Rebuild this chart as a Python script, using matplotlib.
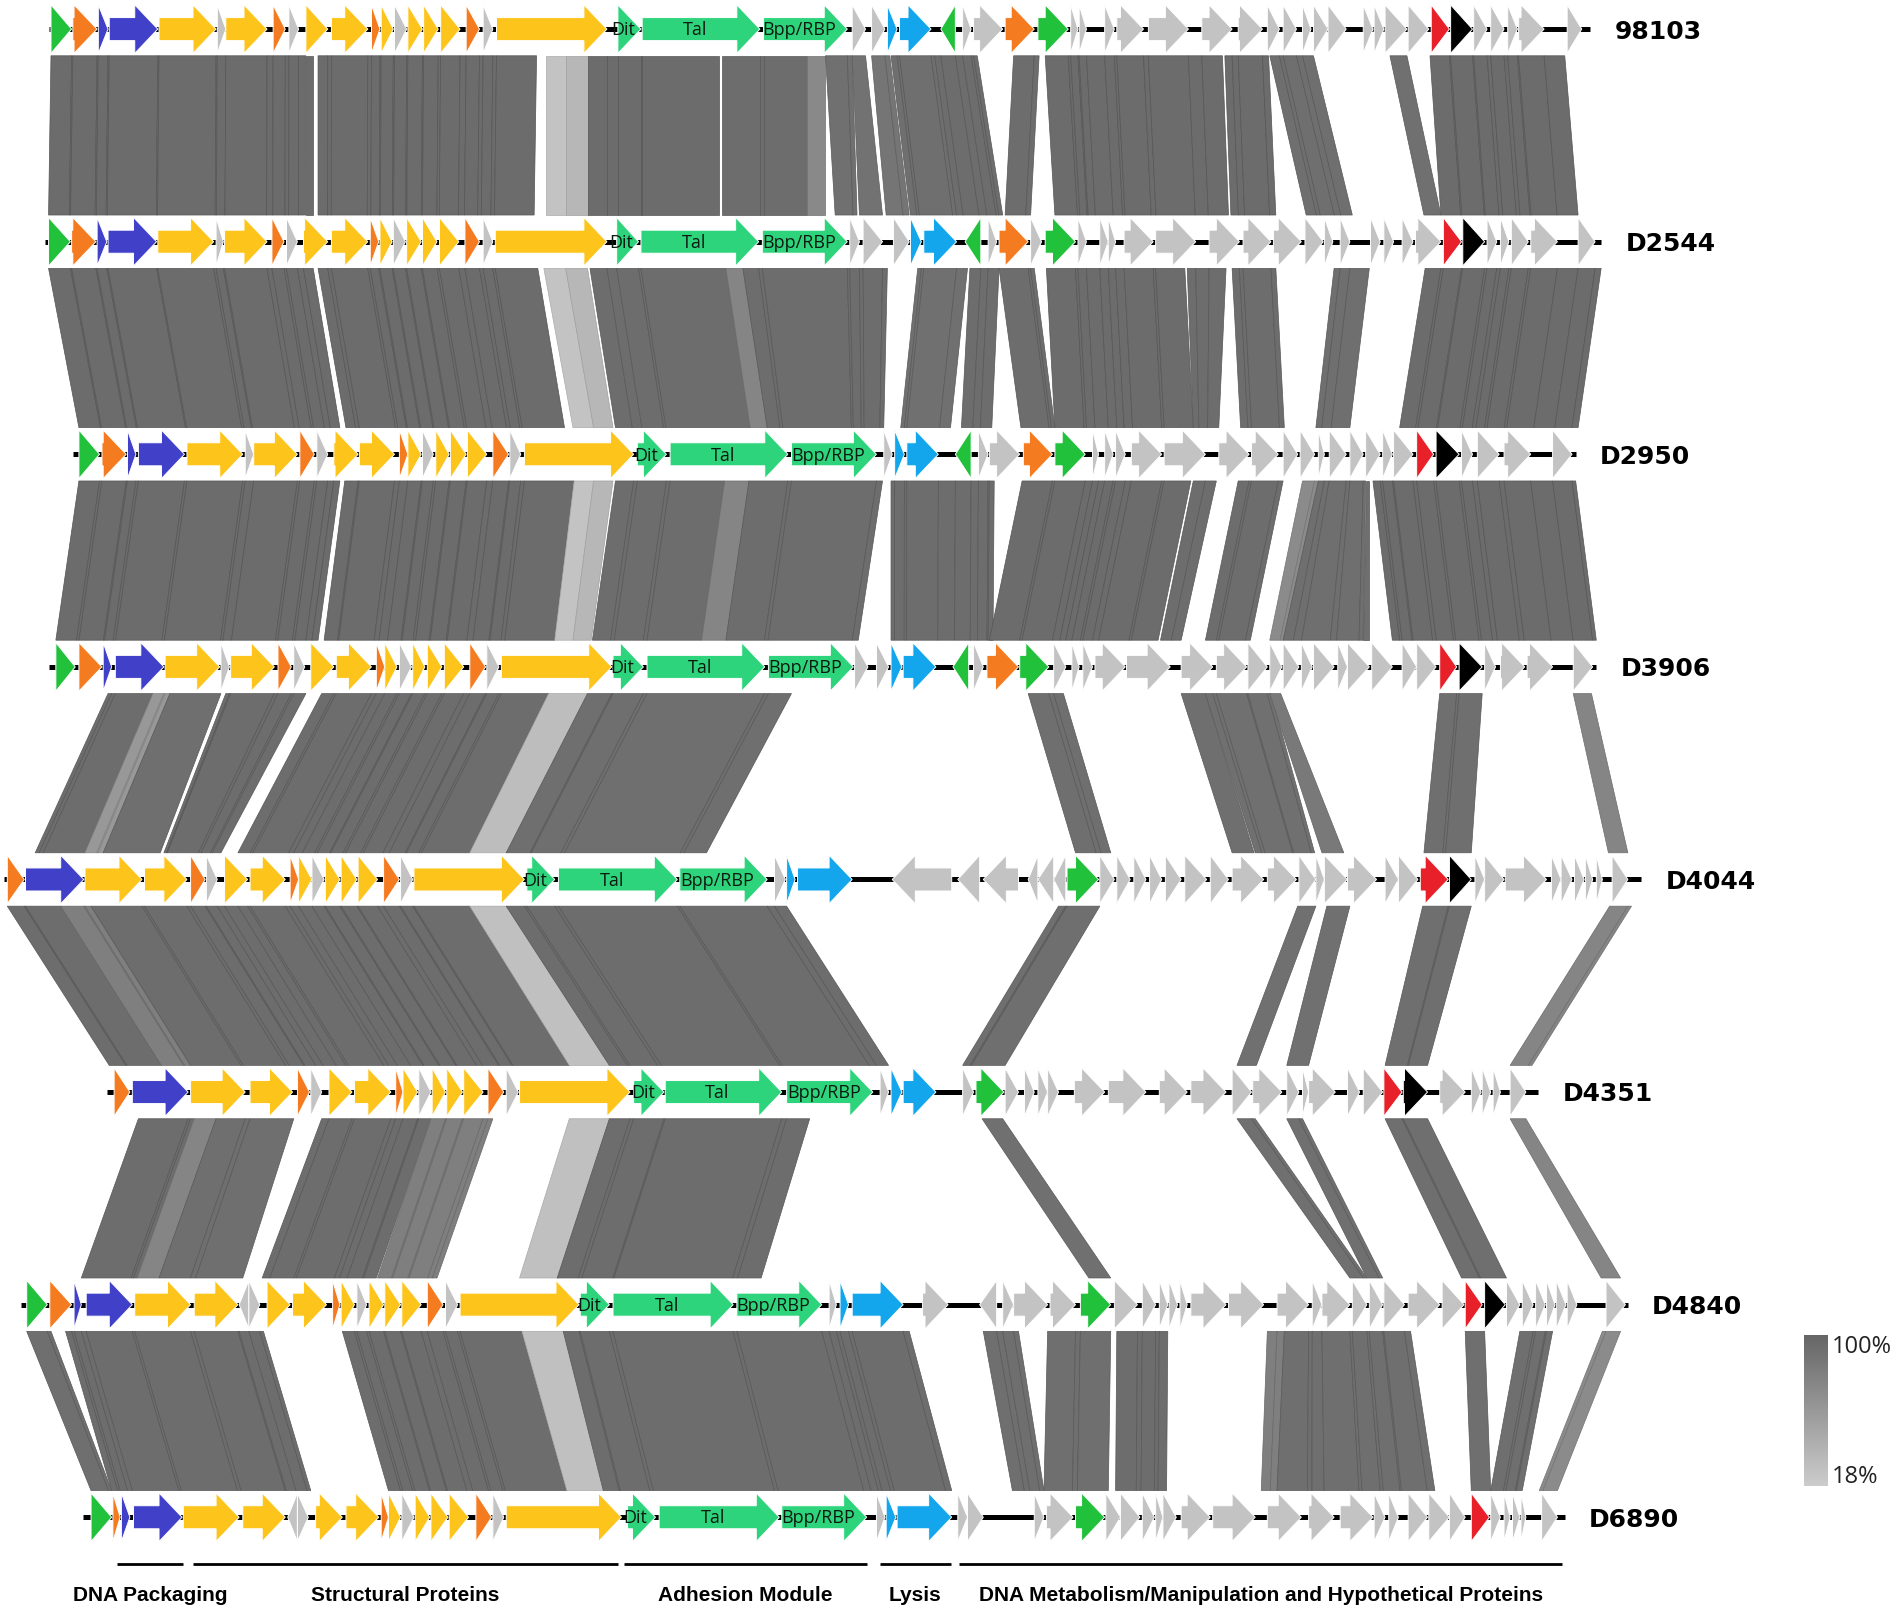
import numpy as np
import matplotlib.pyplot as plt
from matplotlib.patches import Polygon
from matplotlib.colors import LinearSegmentedColormap

# genome names, drawn top to bottom
names = ["98103", "D2544", "D2950", "D3906", "D4044", "D4351", "D4840", "D6890"]
# backbone extent of each genome on the aligned axis
spans = [(40, 1310), (37, 1319), (60, 1298), (40, 1315), (3, 1352), (88, 1267), (17, 1341), (68, 1289)]

# genes: (start, end, class[, name]); end < start means the gene is on the minus strand
genes_98103 = [(42, 59, 'g'), (60, 80, 'o'), (81, 89, 'b'), (90, 130, 'b'), (131, 178, 'y'), (179, 186, 'x'),
               (186, 220, 'y'), (225, 235, 'o'), (238, 246, 'x'), (252, 270, 'y'), (273, 303, 'y'), (306, 313, 'o'),
               (314, 324, 'y'), (325, 335, 'x'), (336, 348, 'y'), (349, 361, 'y'), (363, 379, 'y'), (384, 395, 'o'),
               (398, 406, 'x'), (409, 500, 'y'), (509, 528, 'm', 'Dit'), (529, 626, 'm', 'Tal'),
               (629, 698, 'm', 'Bpp/RBP'), (702, 713, 'x'), (718, 729, 'x'), (731, 739, 'c'), (741, 767, 'c'),
               (787, 775, 'g'), (793, 800, 'x'), (802, 826, 'x'), (828, 852, 'o'), (855, 880, 'g'), (882, 888, 'x'),
               (889, 895, 'x'), (910, 918, 'x'), (920, 942, 'x'), (946, 979, 'x'), (990, 1015, 'x'), (1020, 1040, 'x'),
               (1044, 1054, 'x'), (1057, 1068, 'x'), (1073, 1080, 'x'), (1082, 1094, 'x'), (1094, 1109, 'x'),
               (1123, 1131, 'x'), (1132, 1140, 'x'), (1141, 1159, 'x'), (1160, 1177, 'x'), (1179, 1194, 'r'),
               (1195, 1213, 'k'), (1214, 1225, 'x'), (1228, 1239, 'x'), (1242, 1250, 'x'), (1251, 1272, 'x'),
               (1291, 1303, 'x')]
genes_D2544 = [(40, 58, 'g'), (59, 79, 'o'), (80, 88, 'b'), (89, 129, 'b'), (130, 176, 'y'), (178, 184, 'x'),
               (185, 220, 'y'), (224, 234, 'o'), (236, 245, 'x'), (250, 270, 'y'), (273, 303, 'y'), (305, 312, 'o'),
               (313, 323, 'y'), (324, 334, 'x'), (335, 347, 'y'), (348, 360, 'y'), (362, 378, 'y'), (383, 395, 'o'),
               (398, 406, 'x'), (408, 500, 'y'), (508, 526, 'm', 'Dit'), (528, 625, 'm', 'Tal'),
               (628, 698, 'm', 'Bpp/RBP'), (700, 708, 'x'), (711, 727, 'x'), (736, 749, 'x'), (750, 759, 'c'),
               (761, 788, 'c'), (808, 795, 'g'), (814, 821, 'x'), (823, 847, 'o'), (849, 858, 'x'), (861, 886, 'g'),
               (888, 895, 'x'), (906, 913, 'x'), (913, 919, 'x'), (926, 950, 'x'), (952, 985, 'x'), (996, 1021, 'x'),
               (1024, 1047, 'x'), (1049, 1072, 'x'), (1075, 1090, 'x'), (1091, 1098, 'x'), (1104, 1112, 'x'),
               (1129, 1137, 'x'), (1140, 1148, 'x'), (1155, 1164, 'x'), (1166, 1187, 'x'), (1189, 1204, 'r'),
               (1205, 1223, 'k'), (1225, 1233, 'x'), (1236, 1243, 'x'), (1245, 1259, 'x'), (1261, 1283, 'x'),
               (1300, 1314, 'x')]
genes_D2950 = [(65, 82, 'g'), (84, 104, 'o'), (105, 112, 'b'), (114, 152, 'b'), (154, 200, 'y'), (202, 209, 'x'),
               (209, 245, 'y'), (247, 259, 'o'), (261, 270, 'x'), (275, 295, 'y'), (296, 325, 'y'), (329, 336, 'o'),
               (336, 347, 'y'), (348, 357, 'x'), (359, 370, 'y'), (371, 384, 'y'), (385, 401, 'y'), (406, 419, 'o'),
               (420, 429, 'x'), (432, 522, 'y'), (525, 549, 'm', 'Dit'), (552, 649, 'm', 'Tal'),
               (652, 722, 'm', 'Bpp/RBP'), (728, 735, 'x'), (737, 745, 'c'), (747, 773, 'c'), (800, 787, 'g'),
               (806, 814, 'x'), (815, 840, 'x'), (843, 867, 'o'), (869, 894, 'g'), (900, 905, 'x'), (910, 917, 'x'),
               (919, 927, 'x'), (932, 957, 'x'), (959, 993, 'x'), (1004, 1029, 'x'), (1031, 1053, 'x'),
               (1057, 1069, 'x'), (1071, 1083, 'x'), (1086, 1091, 'x'), (1095, 1109, 'x'), (1112, 1123, 'x'),
               (1125, 1137, 'x'), (1139, 1147, 'x'), (1148, 1164, 'x'), (1167, 1181, 'r'), (1183, 1202, 'k'),
               (1204, 1213, 'x'), (1217, 1235, 'x'), (1239, 1261, 'x'), (1279, 1295, 'x')]
genes_D3906 = [(46, 62, 'g'), (65, 84, 'o'), (85, 92, 'b'), (95, 135, 'b'), (136, 181, 'y'), (182, 189, 'x'),
               (190, 226, 'y'), (229, 240, 'o'), (242, 251, 'x'), (256, 275, 'y'), (277, 306, 'y'), (310, 317, 'o'),
               (317, 327, 'y'), (329, 339, 'x'), (340, 350, 'y'), (352, 364, 'y'), (366, 382, 'y'), (387, 400, 'o'),
               (401, 411, 'x'), (413, 504, 'y'), (505, 530, 'm', 'Dit'), (533, 630, 'm', 'Tal'),
               (633, 703, 'm', 'Bpp/RBP'), (704, 715, 'x'), (722, 732, 'x'), (734, 743, 'c'), (744, 771, 'c'),
               (798, 785, 'g'), (802, 810, 'x'), (813, 839, 'o'), (840, 864, 'g'), (868, 878, 'x'), (883, 889, 'x'),
               (892, 900, 'x'), (902, 927, 'x'), (928, 964, 'x'), (973, 999, 'x'), (1002, 1027, 'x'),
               (1028, 1044, 'x'), (1046, 1056, 'x'), (1057, 1070, 'x'), (1072, 1081, 'x'), (1082, 1099, 'x'),
               (1102, 1110, 'x'), (1110, 1128, 'x'), (1130, 1147, 'x'), (1155, 1167, 'x'), (1167, 1183, 'x'),
               (1186, 1200, 'r'), (1202, 1221, 'k'), (1223, 1232, 'x'), (1236, 1256, 'x'), (1258, 1279, 'x'),
               (1296, 1312, 'x')]
genes_D4044 = [(6, 20, 'o'), (21, 69, 'b'), (70, 117, 'y'), (119, 154, 'y'), (157, 169, 'o'), (170, 179, 'x'),
               (185, 204, 'y'), (206, 235, 'y'), (239, 246, 'o'), (246, 257, 'y'), (257, 267, 'x'), (268, 280, 'y'),
               (281, 294, 'y'), (295, 311, 'y'), (316, 329, 'o'), (330, 340, 'x'), (341, 432, 'y'),
               (434, 457, 'm', 'Dit'), (460, 558, 'm', 'Tal'), (560, 632, 'm', 'Bpp/RBP'), (638, 647, 'x'),
               (648, 655, 'c'), (657, 702, 'c'), (784, 735, 'x'), (807, 789, 'x'), (839, 810, 'x'), (855, 847, 'x'),
               (868, 855, 'x'), (878, 868, 'x'), (879, 905, 'g'), (906, 918, 'x'), (920, 931, 'x'), (934, 944, 'x'),
               (947, 957, 'x'), (960, 973, 'x'), (976, 994, 'x'), (997, 1012, 'x'), (1015, 1041, 'x'),
               (1044, 1068, 'x'), (1070, 1084, 'x'), (1084, 1091, 'x'), (1091, 1110, 'x'), (1110, 1134, 'x'),
               (1141, 1152, 'x'), (1152, 1168, 'x'), (1170, 1193, 'r'), (1194, 1212, 'k'), (1215, 1223, 'x'),
               (1223, 1239, 'x'), (1240, 1274, 'x'), (1278, 1286, 'x'), (1286, 1295, 'x'), (1297, 1305, 'x'),
               (1306, 1312, 'x'), (1315, 1320, 'x'), (1328, 1341, 'x')]
genes_D4351 = [(94, 107, 'o'), (109, 155, 'b'), (157, 202, 'y'), (206, 241, 'y'), (245, 255, 'o'), (256, 265, 'x'),
               (271, 290, 'y'), (292, 322, 'y'), (326, 332, 'o'), (332, 344, 'y'), (345, 355, 'x'), (356, 367, 'y'),
               (368, 381, 'y'), (382, 398, 'y'), (402, 415, 'o'), (417, 427, 'x'), (428, 519, 'y'),
               (522, 547, 'm', 'Dit'), (548, 644, 'm', 'Tal'), (648, 719, 'm', 'Bpp/RBP'), (725, 732, 'x'),
               (734, 743, 'c'), (744, 771, 'c'), (793, 802, 'x'), (804, 827, 'g'), (828, 839, 'x'), (844, 852, 'x'),
               (855, 863, 'x'), (863, 872, 'x'), (885, 910, 'x'), (913, 944, 'x'), (955, 978, 'x'), (981, 1010, 'x'),
               (1015, 1031, 'x'), (1032, 1056, 'x'), (1060, 1070, 'x'), (1073, 1078, 'x'), (1078, 1100, 'x'),
               (1110, 1120, 'x'), (1123, 1139, 'x'), (1140, 1155, 'r'), (1156, 1176, 'k'), (1186, 1207, 'x'),
               (1212, 1220, 'x'), (1221, 1228, 'x'), (1230, 1236, 'x'), (1244, 1257, 'x')]
genes_D4840 = [(22, 39, 'g'), (41, 59, 'o'), (61, 67, 'b'), (71, 109, 'b'), (111, 157, 'y'), (160, 196, 'y'),
               (205, 197, 'x'), (205, 214, 'x'), (220, 239, 'y'), (241, 269, 'y'), (274, 280, 'o'), (281, 292, 'y'),
               (294, 302, 'x'), (304, 316, 'y'), (317, 330, 'y'), (331, 347, 'y'), (352, 365, 'o'), (367, 377, 'x'),
               (379, 477, 'y'), (478, 502, 'm', 'Dit'), (505, 604, 'm', 'Tal'), (607, 677, 'm', 'Bpp/RBP'),
               (683, 689, 'x'), (692, 699, 'c'), (702, 744, 'c'), (760, 781, 'x'), (821, 807, 'x'), (826, 835, 'x'),
               (835, 863, 'x'), (865, 886, 'x'), (890, 915, 'g'), (918, 937, 'x'), (941, 952, 'x'), (955, 962, 'x'),
               (963, 970, 'x'), (972, 978, 'x'), (981, 1010, 'x'), (1012, 1041, 'x'), (1052, 1078, 'x'),
               (1081, 1089, 'x'), (1089, 1112, 'x'), (1114, 1126, 'x'), (1128, 1139, 'x'), (1140, 1157, 'x'),
               (1160, 1186, 'x'), (1188, 1206, 'x'), (1207, 1221, 'r'), (1223, 1240, 'k'), (1241, 1252, 'x'),
               (1254, 1263, 'x'), (1265, 1273, 'x'), (1274, 1281, 'x'), (1282, 1290, 'x'), (1291, 1299, 'x'),
               (1323, 1339, 'x')]
genes_D6890 = [(75, 92, 'g'), (93, 99, 'o'), (100, 107, 'b'), (110, 150, 'b'), (151, 197, 'y'), (200, 235, 'y'),
               (245, 237, 'x'), (245, 254, 'x'), (260, 282, 'y'), (285, 312, 'y'), (314, 320, 'o'), (320, 330, 'y'),
               (331, 341, 'x'), (342, 354, 'y'), (355, 369, 'y'), (370, 386, 'y'), (392, 405, 'o'), (406, 415, 'x'),
               (417, 512, 'y'), (517, 540, 'm', 'Dit'), (543, 642, 'm', 'Tal'), (644, 714, 'm', 'Bpp/RBP'),
               (722, 729, 'x'), (730, 738, 'c'), (739, 784, 'c'), (789, 797, 'x'), (797, 810, 'x'), (852, 860, 'x'),
               (862, 884, 'x'), (886, 910, 'g'), (911, 923, 'x'), (923, 939, 'x'), (941, 951, 'x'), (952, 958, 'x'),
               (958, 969, 'x'), (973, 997, 'x'), (999, 1034, 'x'), (1044, 1072, 'x'), (1078, 1099, 'x'),
               (1104, 1131, 'x'), (1132, 1141, 'x'), (1144, 1152, 'x'), (1160, 1176, 'x'), (1177, 1194, 'x'),
               (1194, 1207, 'x'), (1212, 1227, 'r'), (1228, 1236, 'x'), (1239, 1244, 'x'), (1246, 1252, 'x'),
               (1253, 1257, 'x'), (1270, 1283, 'x')]

# BLAST hits between neighbouring genomes: (top start, top end, bottom start, bottom end, % identity)
hits_1 = [(42, 258, 40, 258, 95), (262, 442, 262, 440, 95), (450, 466, 450, 466, 25), (466, 484, 466, 484, 35),
          (484, 592, 484, 592, 95), (595, 665, 595, 665, 94), (665, 680, 665, 680, 72), (680, 702, 688, 706, 92),
          (702, 713, 708, 727, 90), (718, 733, 730, 749, 88), (734, 770, 750, 788, 93), (770, 805, 788, 826, 94),
          (835, 856, 828, 849, 94), (861, 1007, 869, 1012, 95), (1009, 1045, 1014, 1051, 95),
          (1046, 1082, 1076, 1114, 93), (1145, 1159, 1173, 1187, 92), (1178, 1289, 1187, 1300, 95)]
hits_2 = [(40, 258, 65, 280, 95), (262, 443, 285, 465, 95), (448, 466, 472, 489, 25), (466, 484, 489, 505, 35),
          (486, 598, 507, 618, 94), (598, 612, 618, 632, 75), (612, 731, 632, 728, 94), (756, 797, 742, 783, 92),
          (799, 823, 792, 817, 94), (823, 852, 841, 869, 94), (862, 976, 869, 983, 95), (978, 1010, 983, 1004, 94),
          (1015, 1051, 1022, 1058, 94), (1099, 1128, 1084, 1112, 93), (1174, 1319, 1153, 1300, 95)]
hits_3 = [(65, 280, 46, 262, 95), (284, 473, 267, 457, 95), (473, 489, 457, 472, 25), (489, 505, 472, 487, 35),
          (507, 597, 488, 578, 94), (597, 617, 578, 598, 75), (617, 727, 598, 707, 94), (734, 819, 734, 818, 94),
          (842, 981, 815, 954, 95), (983, 1002, 956, 973, 94), (1020, 1057, 993, 1030, 94),
          (1073, 1086, 1046, 1057, 70), (1086, 1128, 1057, 1128, 93), (1131, 1298, 1147, 1315, 95)]
hits_4 = [(89, 126, 29, 70, 94), (126, 140, 70, 85, 60), (140, 182, 85, 132, 93), (186, 252, 135, 182, 94),
          (265, 452, 196, 387, 94), (452, 484, 387, 417, 30), (484, 652, 417, 582, 93), (847, 876, 886, 915, 93),
          (973, 993, 1015, 1033, 93), (993, 1047, 1034, 1083, 92), (1046, 1055, 1089, 1107, 85),
          (1186, 1221, 1173, 1212, 93), (1296, 1311, 1325, 1341, 75)]
hits_5 = [(6, 50, 90, 133, 94), (50, 75, 133, 157, 80), (75, 196, 157, 277, 94), (196, 387, 277, 469, 94),
          (387, 417, 469, 502, 28), (417, 648, 502, 732, 94), (872, 906, 793, 828, 93), (1069, 1084, 1019, 1035, 92),
          (1093, 1112, 1060, 1078, 92), (1172, 1212, 1141, 1176, 93), (1326, 1344, 1244, 1262, 75)]
hits_6 = [(114, 160, 67, 113, 94), (160, 178, 113, 131, 75), (178, 242, 131, 200, 93), (265, 355, 216, 310, 94),
          (355, 406, 311, 360, 80), (469, 502, 428, 460, 28), (502, 667, 459, 627, 94), (809, 826, 897, 915, 92),
          (1019, 1034, 1112, 1126, 92), (1060, 1073, 1126, 1139, 92), (1141, 1176, 1204, 1241, 93),
          (1244, 1257, 1319, 1335, 75)]
hits_7 = [(22, 42, 75, 92, 93), (54, 217, 92, 256, 94), (282, 430, 320, 467, 94), (430, 464, 467, 497, 28),
          (464, 749, 497, 784, 94), (810, 839, 834, 860, 93), (863, 915, 860, 913, 93), (920, 962, 919, 961, 94),
          (1044, 1058, 1039, 1052, 80), (1058, 1162, 1052, 1182, 93), (1207, 1223, 1212, 1228, 93),
          (1252, 1279, 1228, 1254, 93), (1320, 1335, 1268, 1283, 70)]

module_names = ["DNA Packaging", "Structural Proteins", "Adhesion Module", "Lysis",
                "DNA Metabolism/Manipulation and Hypothetical Proteins"]
module_spans = [(96, 151), (159, 509), (514, 714), (725, 783), (790, 1287)]

genes = [genes_98103, genes_D2544, genes_D2950, genes_D3906, genes_D4044, genes_D4351, genes_D4840, genes_D6890]
hits = [hits_1, hits_2, hits_3, hits_4, hits_5, hits_6, hits_7]

colors = {'g': '#22c13c', 'm': '#2ed47c', 'o': '#f47b20', 'b': '#4040c8', 'y': '#fdc41c',
          'x': '#c3c3c3', 'c': '#13a6ec', 'r': '#e8202a', 'k': '#000000'}

row_y = [24 + 175.3 * i for i in range(len(names))]
HEAD, HALF_HEAD, HALF_BODY = 19, 20, 9.5
GAP = 22


def shade(pid):
    g = 0.40 + (100 - pid) / 82 * 0.40
    return (g, g, g)


def arrow(ax, s, e, y, color):
    d = 1 if e > s else -1
    length = abs(e - s)
    h = min(HEAD, length)
    neck = e - d * h
    if h >= length:
        pts = [(s, y - HALF_HEAD), (e, y), (s, y + HALF_HEAD)]
    else:
        pts = [(s, y - HALF_BODY), (neck, y - HALF_BODY), (neck, y - HALF_HEAD), (e, y),
               (neck, y + HALF_HEAD), (neck, y + HALF_BODY), (s, y + HALF_BODY)]
    ax.add_patch(Polygon(pts, closed=True, facecolor=color, edgecolor='white', lw=0.7, zorder=3))


fig = plt.figure(figsize=(19.01, 16.19), dpi=100)
ax = fig.add_axes([0, 0, 1, 1])

# homology bands, split at the gene borders of the upper genome
for i, gap in enumerate(hits):
    y0 = row_y[i] + GAP
    y1 = row_y[i + 1] - GAP
    cuts = sorted({min(g[0], g[1]) for g in genes[i]} | {max(g[0], g[1]) for g in genes[i]})
    for t1, t2, b1, b2, pid in gap:
        pts = [t1] + [c for c in cuts if t1 + 2 < c < t2 - 2] + [t2]
        bot = [b1 + (p - t1) / (t2 - t1) * (b2 - b1) for p in pts]
        fc = shade(pid)
        ec = tuple(max(v - 0.09, 0) for v in fc)
        for k in range(len(pts) - 1):
            quad = [(pts[k], y0), (pts[k + 1], y0), (bot[k + 1], y1), (bot[k], y1)]
            ax.add_patch(Polygon(quad, closed=True, facecolor=fc, edgecolor=ec, lw=0.5, zorder=1))

# genomes
for i, name in enumerate(names):
    y = row_y[i]
    x0, x1 = spans[i]
    ax.plot([x0, x1], [y, y], color='black', lw=3.6, solid_capstyle='butt', zorder=2)
    for g in genes[i]:
        arrow(ax, g[0], g[1], y, colors[g[2]])
        if len(g) > 3:
            ax.text((g[0] + g[1]) / 2 - 5, y + 1, g[3], ha='center', va='center', fontsize=13,
                    family=['Liberation Sans Narrow', 'Open Sans'], color='#0d1a10', zorder=4)
    ax.text(x1 + 20, y + 2, name, ha='left', va='center', fontsize=18, fontweight='bold',
            family='DejaVu Sans', zorder=4)

# functional modules
for label, (a, b) in zip(module_names, module_spans):
    ax.plot([a, b], [1290, 1290], color='black', lw=2, solid_capstyle='butt')
    ax.text((a + b) / 2, 1316, label, ha='center', va='center', fontsize=15, fontweight='bold',
            family='Liberation Sans')

# identity scale
cmap = LinearSegmentedColormap.from_list('pid', [shade(100), shade(18)])
ax.imshow(np.linspace(0, 1, 200)[:, None], cmap=cmap, extent=(1486, 1505, 1225, 1101),
          origin='upper', aspect='auto', zorder=2)
ax.text(1509, 1111, '100%', ha='left', va='center', fontsize=17, family='Open Sans', color='#222222')
ax.text(1509, 1218, '18%', ha='left', va='center', fontsize=17, family='Open Sans', color='#222222')

ax.set_xlim(0, 1566)
ax.set_ylim(1335, 0)
ax.axis('off')
fig.savefig('out.png', dpi=100, facecolor='white')
